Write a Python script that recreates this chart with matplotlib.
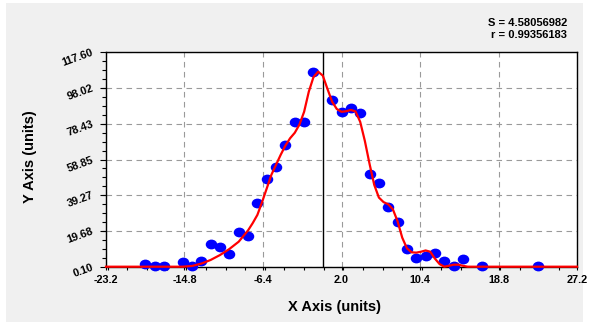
import matplotlib
matplotlib.use('Agg')
import matplotlib.pyplot as plt
import numpy as np
from matplotlib.patches import Rectangle
from matplotlib.path import Path
from matplotlib.ticker import FixedLocator, MultipleLocator

# ---- data ----
x_data = [-19, -18, -17, -15, -14, -13, -12, -11, -10, -9, -8, -7, -6, -5, -4, -3, -2, -1,
          1, 2, 3, 4, 5, 6, 7, 8, 9, 10, 11, 12, 13, 14, 15, 17, 23]
y_data = [1.6, 0.6, 0.6, 2.8, 0.5, 3.0, 12.5, 10.7, 6.9, 18.9, 16.9, 34.8, 48.0, 54.9, 66.6,
          79.6, 79.6, 106.7, 91.6, 84.7, 87.3, 84.2, 50.8, 45.8, 32.6, 24.8, 9.8, 4.7, 5.8,
          7.6, 3.0, 0.5, 4.1, 0.5, 0.6]

# fitted curve (clipped at the axis floor)
fit_x = [-23.2, -15.0, -14.0, -13.0, -12.0, -11.0, -10.0, -9.0, -8.0, -7.5, -7.0, -6.5, -6.0,
         -5.5, -5.0, -4.5, -4.0, -3.5, -3.0, -2.5, -2.0, -1.5, -1.0, -0.5, 0.0, 0.5, 1.0,
         1.5, 2.0, 2.5, 3.0, 3.5, 4.0, 4.5, 5.0, 5.5, 6.0, 6.5, 7.0, 7.5, 8.0, 8.5, 9.0,
         9.5, 10.0, 10.5, 11.0, 11.5, 12.0, 12.5, 13.0, 13.5, 14.0, 14.5, 15.0, 15.5, 27.2]
fit_y = [0.1, 0.1, 0.5, 1.8, 3.8, 6.5, 9.8, 13.8, 20.0, 24.0, 28.5, 35.5, 43.0,
         50.5, 56.0, 61.5, 66.5, 70.5, 73.5, 78.0, 85.0, 96.0, 104.0, 107.0, 104.8, 97.5, 90.5,
         86.5, 85.0, 85.3, 86.0, 85.2, 79.5, 69.0, 56.5, 45.0, 38.0, 35.5, 34.3, 31.5, 25.0,
         16.0, 10.2, 8.0, 7.8, 8.3, 9.0, 8.3, 4.5, 1.5, 0.1, 0.6, 1.2, 1.2, 0.6, 0.1, 0.1]

x_ticks = [-23.2, -14.8, -6.4, 2.0, 10.4, 18.8, 27.2]
x_tick_labels = ['-23.2', '-14.8', '-6.4', '2.0', '10.4', '18.8', '27.2']
y_ticks = [0.10, 19.68, 39.27, 58.85, 78.43, 98.02, 117.60]
y_tick_labels = ['0.10', '19.68', '39.27', '58.85', '78.43', '98.02', '117.60']

stats_lines = ['S = 4.58056982', 'r = 0.99356183']
x_label = 'X Axis (units)'
y_label = 'Y Axis (units)'

# ---- figure ----
W, H = 592, 322
fig = plt.figure(figsize=(W / 100, H / 100), dpi=100, facecolor='white')
fig.patches.append(Rectangle((6 / W, 0), (583 - 6) / W, 1 - 3 / H,
                             transform=fig.transFigure, facecolor='#f0f0f0',
                             edgecolor='none', zorder=-10))

left, right, top, bottom = 106, 577, 52.3, 266.7
ax = fig.add_axes([left / W, 1 - bottom / H, (right - left) / W, (bottom - top) / H])
ax.set_facecolor('white')
ax.set_xlim(x_ticks[0], x_ticks[-1])
ax.set_ylim(y_ticks[0], y_ticks[-1])

font = 'Liberation Sans'

ax.xaxis.set_major_locator(FixedLocator(x_ticks))
ax.set_xticklabels(x_tick_labels, fontfamily=font, fontweight='bold', fontsize=7.8)
ax.xaxis.set_minor_locator(MultipleLocator(2.1, offset=0.1))
ax.yaxis.set_major_locator(FixedLocator(y_ticks))
ax.set_yticklabels(y_tick_labels, fontfamily=font, fontweight='bold', fontsize=7.8)
ax.yaxis.set_minor_locator(FixedLocator(list(np.linspace(y_ticks[0], y_ticks[-1], 25))))

ax.tick_params(axis='x', which='both', direction='out', length=2.3, width=0.8, pad=4)
ax.tick_params(axis='y', which='major', direction='out', length=4.3, width=0.8, pad=5)
ax.tick_params(axis='y', which='minor', direction='out', length=2.8, width=0.8)
plt.setp(ax.get_yticklabels(), rotation=20, rotation_mode='anchor', ha='right', va='center')

for sp in ax.spines.values():
    sp.set_linewidth(1.0)
    sp.set_color('black')

ax.grid(True, which='major', color='#9a9a9a', linestyle=(0, (5, 4)), linewidth=0.8)
ax.set_axisbelow(True)

ax.axvline(0, color='black', linewidth=1.0, zorder=2)

circ = Path.unit_circle()
ell = Path(circ.vertices * np.array([1.0, 0.85]), circ.codes)
ax.plot(x_data, y_data, linestyle='none', marker=ell, markersize=8.3,
        color='#0000ff', markeredgewidth=0, zorder=3, clip_on=False)
ax.plot(fit_x, fit_y, color='#ff0000', linewidth=1.6, zorder=4, clip_on=False,
        solid_joinstyle='round')

fig.text(334 / W, 1 - 307 / H, x_label, ha='center', va='center',
         fontfamily=font, fontweight='bold', fontsize=10.5)
fig.text(30 / W, 1 - 157 / H, y_label, ha='center', va='center', rotation=90,
         fontfamily=font, fontweight='bold', fontsize=10.5)
fig.text(567 / W, 1 - 23.3 / H, stats_lines[0], ha='right', va='center',
         fontfamily=font, fontweight='bold', fontsize=8)
fig.text(567 / W, 1 - 35 / H, stats_lines[1], ha='right', va='center',
         fontfamily=font, fontweight='bold', fontsize=8)

fig.savefig('out.png', dpi=100, facecolor='white')
